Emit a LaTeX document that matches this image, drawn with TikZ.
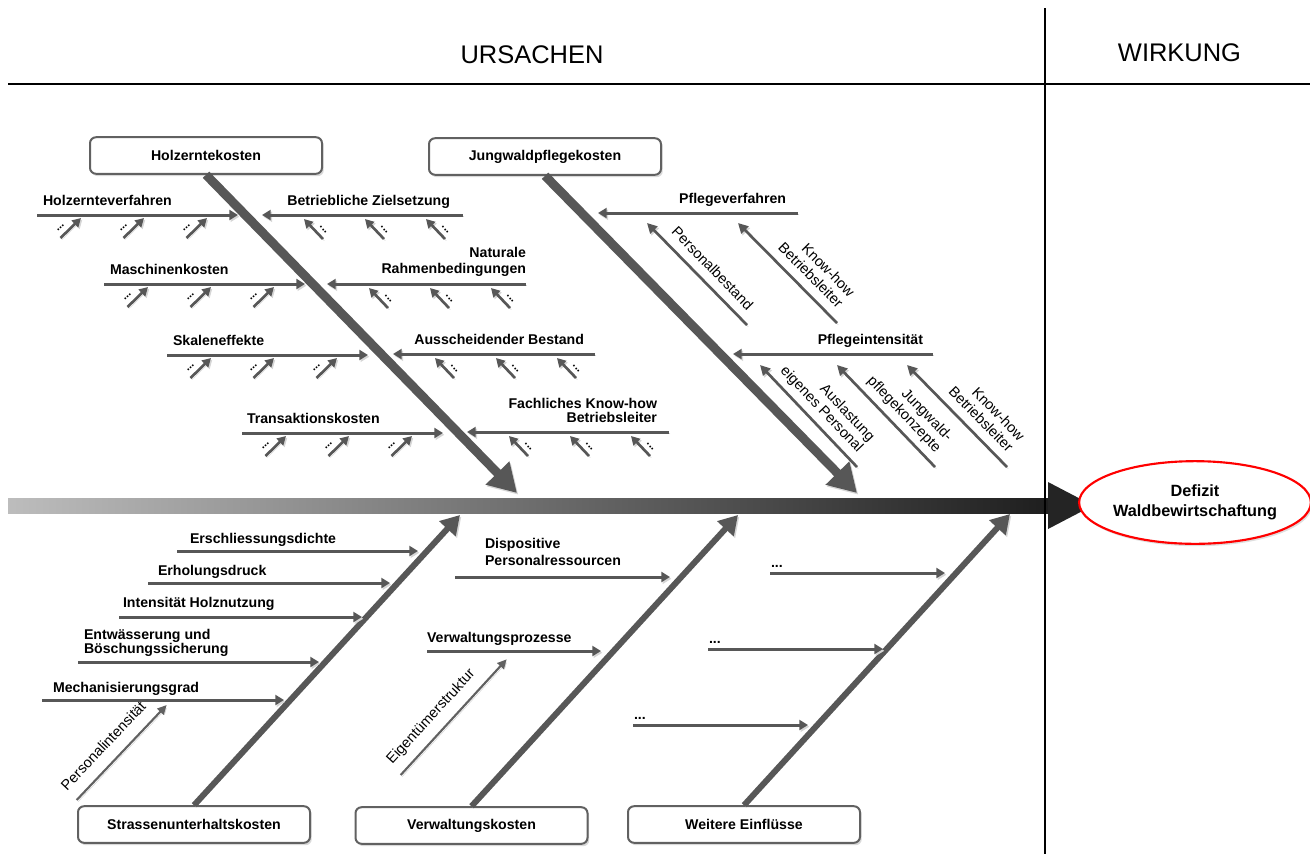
\documentclass[tikz,border=0pt]{standalone}
\usepackage{fontspec}
\setmainfont{Liberation Sans}
\usetikzlibrary{arrows.meta,shapes.geometric,shadows}
\newcommand\dg{\vphantom{g}}
\newcommand\lblfont{\fontsize{10.6pt}{12pt}\selectfont\bfseries}
\newcommand\rotfont{\fontsize{10.9pt}{12pt}\selectfont}
\newcommand\dotfont{\fontsize{8.5pt}{9pt}\selectfont\bfseries}
\newcommand\efont{\fontsize{12.2pt}{15.4pt}\selectfont\bfseries}
\newcommand\tfont{\fontsize{19.1pt}{22pt}\selectfont}
\begin{document}
\begin{tikzpicture}[x=0.75pt,y=-0.75pt,
  box/.style={draw=black!62, line width=1.5pt, rounded corners=4.5pt, fill=white,
    minimum width=174pt, minimum height=27.4pt, inner sep=0pt, font=\lblfont,
    drop shadow={shadow xshift=1.3pt, shadow yshift=-1.8pt, opacity=0.3}},
  shad/.style={preaction={draw=black!16, transform canvas={shift={(1pt,-1.3pt)}}}},
  bone/.style={shad, draw=black!66, line width=6.75pt, -{Triangle[length=21pt,width=23.5pt]}},
  bbone/.style={shad, draw=black!66, line width=4.5pt, -{Triangle[length=14pt,width=16pt]}},
  sub/.style={shad, draw=black!66, line width=2.25pt, -{Triangle[length=6.5pt,width=7.5pt]}},
  smallarr/.style={shad, draw=black!66, line width=2pt, -{Triangle[length=6.5pt,width=7pt]}},
  diag/.style={shad, draw=black!66, line width=2pt, -{Triangle[length=7.5pt,width=7.5pt]}},
  thinarr/.style={shad, draw=black!62, line width=1.6pt, -{Triangle[length=7pt,width=6.5pt]}},
  lbl/.style={font=\lblfont, inner sep=0pt, outer sep=0pt},
  lblL/.style={lbl, anchor=south west, align=left},
  lblR/.style={lbl, anchor=south east, align=right},
  rot/.style={font=\rotfont, inner sep=0pt, outer sep=0pt},
  dotsL/.style={sloped, pos=0.26, anchor=south, inner sep=4.8pt, outer sep=0pt, font=\dotfont},
  dotsR/.style={sloped, pos=0.24, anchor=south, inner sep=4.3pt, outer sep=0pt, font=\dotfont}
]
\useasboundingbox (0,0) rectangle (1310,854);

% header
\coordinate (hlL) at (8,84); \coordinate (hlR) at (1310,84);
\draw[line width=1.5pt] (hlL) -- (hlR);
\node[font=\tfont, anchor=base] (urs) at (532,63) {URSACHEN};
\node[font=\tfont, anchor=base] (wir) at (1179.5,61) {WIRKUNG};

% spine
\shade[left color=black!26, right color=black!88] (8,498) rectangle (1048,513);
\fill[black!86] (1048,482) -- (1093,505.5) -- (1048,529) -- cycle;
\coordinate (vlT) at (1045,8); \coordinate (vlB) at (1045,854);
\draw[line width=1.6pt] (vlT) -- (vlB);

% effect
\node[ellipse, draw=red, line width=1.6pt, fill=white, minimum width=173pt, minimum height=62pt,
  inner sep=0pt, align=center, font=\efont,
  drop shadow={shadow xshift=1.2pt, shadow yshift=-1.8pt, opacity=0.25}] (eff) at (1195,502.5)
  {Defizit\\Waldbewirtschaftung};

% category boxes
\node[box] (hk) at (206,155.5) {Holzerntekosten};
\node[box] (jk) at (545,156.5) {Jungwaldpflegekosten};
\node[box] (sk) at (194,824.5) {Strassenunterhaltskosten};
\node[box] (vk) at (471.5,825.5) {Verwaltungskosten};
\node[box] (wk) at (744,824.5) {Weitere Einflüsse};

% main bones
\coordinate (hkT) at (517,493);
\coordinate (jkT) at (857,493);
\coordinate (skT) at (460,515);
\coordinate (vkT) at (738,515);
\coordinate (wkT) at (1010,514);
\draw[bone] (hk.south) -- (hkT);
\draw[bone] (jk.south) -- (jkT);
\draw[bbone] (sk.north) -- (skT);
\draw[bbone] (vk.north) -- (vkT);
\draw[bbone] (wk.north) -- (wkT);

% Holzerntekosten: left sub-branches
\foreach \s/\e/\y [count=\i] in {37/238/215,104/305/284,167/368/355,242/443/433}{
  \coordinate (HL\i a) at (\s,\y); \coordinate (HL\i b) at (\e,\y);
  \draw[sub] (HL\i a) -- (HL\i b);
  \foreach \o [count=\j] in {44,107,170}{
    \coordinate (HL\i t\j) at (\s+\o-20.5,\y+23);
    \coordinate (HL\i h\j) at (\s+\o,\y+3);
    \draw[smallarr] (HL\i t\j) -- node[dotsL] {...} (HL\i h\j);
  }
}
% Holzerntekosten: right sub-branches
\foreach \s/\e/\y [count=\i] in {262/463/215,327/526/284,393/595/354,467/669/432}{
  \coordinate (HR\i a) at (\e,\y); \coordinate (HR\i b) at (\s,\y);
  \draw[sub] (HR\i a) -- (HR\i b);
  \foreach \o [count=\j] in {42,103,164}{
    \coordinate (HR\i t\j) at (\s+\o+19,\y+24);
    \coordinate (HR\i h\j) at (\s+\o,\y+4);
    \draw[smallarr] (HR\i t\j) -- node[dotsR] {...} (HR\i h\j);
  }
}
\node[lblL] (l1) at (43,208) {Holzernteverfahren\dg};
\node[lblL] (l2) at (110,277) {Maschinenkosten\dg};
\node[lblL] (l3) at (173,348) {Skaleneffekte\dg};
\node[lblL] (l4) at (247,426) {Transaktionskosten\dg};
\node[lblR] (r1) at (450,208) {Betriebliche Zielsetzung\dg};
\node[lblR, font={\fontsize{10.6pt}{12pt}\selectfont\bfseries}] (r2) at (526,276) {Naturale\\Rahmenbedingungen\dg};
\node[lblR] (r3) at (584,347) {Ausscheidender Bestand\dg};
\node[lblR, font={\fontsize{10.6pt}{10.5pt}\selectfont\bfseries}] (r4) at (657,425) {Fachliches Know-how\\Betriebsleiter\dg};

% Jungwaldpflegekosten
\coordinate (J1a) at (798,213); \coordinate (J1b) at (598,213);
\coordinate (J2a) at (933,354); \coordinate (J2b) at (733,354);
\draw[sub] (J1a) -- (J1b);
\draw[sub] (J2a) -- (J2b);
\node[lblR] (j1) at (786,206) {Pflegeverfahren\dg};
\node[lblR] (j2) at (923,347) {Pflegeintensität\dg};

\coordinate (D1t) at (747,325); \coordinate (D1h) at (647,223);
\coordinate (D2t) at (837,323); \coordinate (D2h) at (738,223);
\coordinate (D3t) at (857,467); \coordinate (D3h) at (760,365);
\coordinate (D4t) at (935,467); \coordinate (D4h) at (837,365);
\coordinate (D5t) at (1007,467); \coordinate (D5h) at (907,365);
\foreach \k in {1,...,5}{ \draw[diag] (D\k t) -- (D\k h); }
\node[rot, rotate=-45.6, anchor=south east] (d1) at (745,313) {Personalbestand\dg};
\node[rot, rotate=-45.3, anchor=south east, align=right] (d2) at (835,311) {Know-how\\Betriebsleiter\dg};
\node[rot, rotate=-46.4, anchor=south east, align=right] (d3) at (855.2,455) {Auslastung\\eigenes Personal\dg};
\node[rot, rotate=-46.1, anchor=south east, align=right] (d4) at (933.1,455) {Jungwald-\\pflegekonzepte\dg};
\node[rot, rotate=-45.6, anchor=south east, align=right] (d5) at (1005,455) {Know-how\\Betriebsleiter\dg};

% Strassenunterhaltskosten
\foreach \s/\e/\y [count=\i] in {177/418/551,148/390/583,119/362/617,78/319/662,42/284/700}{
  \coordinate (S\i a) at (\s,\y); \coordinate (S\i b) at (\e,\y);
  \draw[sub] (S\i a) -- (S\i b);
}
\node[lblL] (s1) at (190,546) {Erschliessungsdichte\dg};
\node[lblL] (s2) at (158,578) {Erholungsdruck\dg};
\node[lblL] (s3) at (123,610) {Intensität Holznutzung\dg};
\node[lblL, font={\fontsize{10.6pt}{10.5pt}\selectfont\bfseries}] (s4) at (84,656) {Entwässerung und\\Böschungssicherung\dg};
\node[lblL] (s5) at (53,695) {Mechanisierungsgrad\dg};
\coordinate (P1t) at (76.7,800); \coordinate (P1h) at (166.7,705);
\draw[thinarr] (P1t) -- (P1h);
\node[rot, rotate=46.5, anchor=south west] (p1) at (69.4,793.1) {Personalintensität\dg};

% Verwaltungskosten
\coordinate (V1a) at (455,577); \coordinate (V1b) at (670,577);
\coordinate (V2a) at (427,651); \coordinate (V2b) at (601,651);
\draw[sub] (V1a) -- (V1b);
\draw[sub] (V2a) -- (V2b);
\node[lblL, font={\fontsize{10.6pt}{12.75pt}\selectfont\bfseries}] (v1) at (485,568) {Dispositive\\Personalressourcen\dg};
\node[lblL] (v2) at (427,645) {Verwaltungsprozesse\dg};
\coordinate (E1t) at (400.7,775); \coordinate (E1h) at (506.7,659.3);
\draw[thinarr] (E1t) -- (E1h);
\node[rot, rotate=47.5, anchor=south west] (e1) at (394.7,766.8) {Eigentümerstruktur\dg};

% Weitere Einfluesse
\foreach \s/\e/\y [count=\i] in {770/945/573,708/883/649,633/808/725}{
  \coordinate (W\i a) at (\s,\y); \coordinate (W\i b) at (\e,\y);
  \draw[sub] (W\i a) -- (W\i b);
  \node[lbl, anchor=base west] (w\i) at (\s+1,\y-6) {...};
}
\end{tikzpicture}
\end{document}
